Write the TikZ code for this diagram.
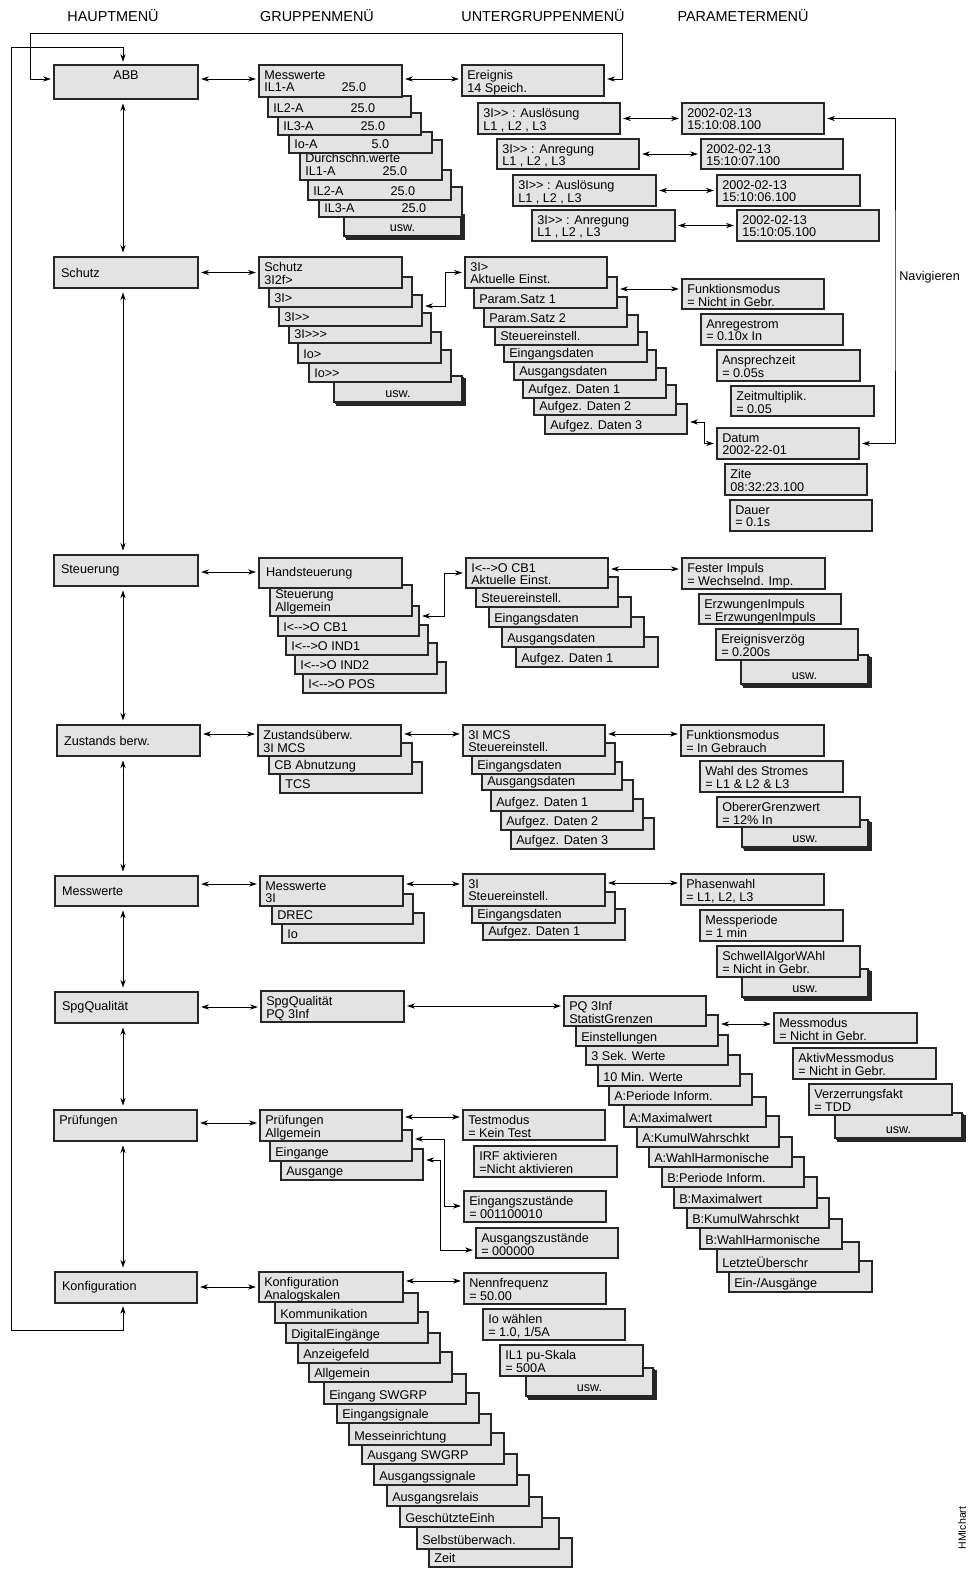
\documentclass[tikz,border=0pt]{standalone}
\usepackage{fontspec}
\setmainfont{Liberation Sans}
\usetikzlibrary{fit,shadows,arrows.meta}

\newcommand{\tabv}[2]{\makebox[44pt][l]{#1}#2}

\tikzset{
  box/.style={draw=black!85, fill=black!11, line width=0.9pt, inner sep=0pt, outer sep=0pt},
  txt/.style={font={\fontsize{7.2}{7.1}\selectfont\lineskiplimit=-5pt}, inner sep=0pt, align=left},
  tl/.style={label={[txt, anchor=north west, xshift=2.8pt, yshift=-2.9pt]north west:\strut #1}},
  bl/.style={label={[txt, anchor=south west, xshift=2.8pt, yshift=0.3pt]south west:#1\strut}},
  ml/.style={label={[txt, anchor=west, xshift=3.8pt]west:#1}},
  usw/.style={box, copy shadow={shadow xshift=1.6pt, shadow yshift=-1.6pt},
    copy shadow={shadow xshift=0.8pt, shadow yshift=-0.8pt},
    label={[txt, anchor=south, yshift=0.3pt]south:usw.\strut}},
  link/.style={line width=0.5pt, {Stealth[length=4.5pt,width=3pt]}-{Stealth[length=4.5pt,width=3pt]},
    shorten <=1.8pt, shorten >=1.8pt},
  head/.style={font=\fontsize{8.2}{9}\selectfont},
}

\begin{document}
\begin{tikzpicture}[x=0.02cm, y=-0.02cm]
    \useasboundingbox (0,0) rectangle (977,1569);

    % column headings
    \node[head] (hmain) at (113,16) {HAUPTMENÜ};
    \node[head] (hgrp)  at (317,16) {GRUPPENMENÜ};
    \node[head] (hsub)  at (543,16) {UNTERGRUPPENMENÜ};
    \node[head] (hpar)  at (743,16) {PARAMETERMENÜ};
    \coordinate (spine) at (123,0);

    % main menu
    \node[box, fit={(54,65)(198,99)}, label={[txt, anchor=north, yshift=-2.9pt]north:\strut ABB}] (abb) {};
    \node[box, fit={(54,257)(198,288)}, ml=Schutz] (schutz) {};
    \node[box, fit={(54,555)(198,586)}, ml=Steuerung] (steu) {};
    \node[box, fit={(57,725)(200,756)}, ml=Zustands berw.] (zust) {};
    \node[box, fit={(55,876)(198,906)}, ml=Messwerte] (mess) {};
    \node[box, fit={(55,992)(198,1023)}, ml=SpgQualität] (spg) {};
    \node[box, fit={(54,1110)(197,1141)}, tl=Prüfungen] (pruef) {};
    \node[box, fit={(55,1272)(197,1303)}, ml=Konfiguration] (konf) {};

    \draw[link, shorten <=2.5pt, shorten >=2.5pt] (abb.south -| spine) -- (schutz.north -| spine);
    \draw[link, shorten <=2.5pt, shorten >=2.5pt] (schutz.south -| spine) -- (steu.north -| spine);
    \draw[link, shorten <=2.5pt, shorten >=2.5pt] (steu.south -| spine) -- (zust.north -| spine);
    \draw[link, shorten <=2.5pt, shorten >=2.5pt] (zust.south -| spine) -- (mess.north -| spine);
    \draw[link, shorten <=2.5pt, shorten >=2.5pt] (mess.south -| spine) -- (spg.north -| spine);
    \draw[link, shorten <=2.5pt, shorten >=2.5pt] (spg.south -| spine) -- (pruef.north -| spine);
    \draw[link, shorten <=2.5pt, shorten >=2.5pt] (pruef.south -| spine) -- (konf.north -| spine);

    % ABB: messwerte
    \node[usw, fit={(344,212)(461,236)}] (g1h) {};
    \node[box, fit={(319,187)(462,217)}, bl={\tabv{IL3-A}{25.0}}] (g1g) {};
    \node[box, fit={(308,170)(451,200)}, bl={\tabv{IL2-A}{25.0}}] (g1f) {};
    \node[box, fit={(300,140)(442,180)}, bl={Durchschn.werte\\\tabv{IL1-A}{25.0}}] (g1e) {};
    \node[box, fit={(289,132)(432,153)}, bl={\tabv{Io-A}{5.0}}] (g1d) {};
    \node[box, fit={(278,113)(421,135)}, bl={\tabv{IL3-A}{25.0}}] (g1c) {};
    \node[box, fit={(268,96)(411,117)}, bl={\tabv{IL2-A}{25.0}}] (g1b) {};
    \node[box, fit={(259,65)(402,97)}, tl={Messwerte\\\tabv{IL1-A}{25.0}}] (g1a) {};

    % ABB: ereignisse
    \node[box, fit={(462,65)(604,96)}, tl={Ereignis\\14 Speich.}] (u1a) {};
    \node[box, fit={(478,103)(620,134)}, tl={3I>{}> : Auslösung\\L1 , L2 , L3}] (e1) {};
    \node[box, fit={(497,139)(639,169)}, tl={3I>{}> : Anregung\\L1 , L2 , L3}] (e2) {};
    \node[box, fit={(513,175)(656,206)}, tl={3I>{}> : Auslösung\\L1 , L2 , L3}] (e3) {};
    \node[box, fit={(532,210)(675,241)}, tl={3I>{}> : Anregung\\L1 , L2 , L3}] (e4) {};
    \node[box, fit={(682,103)(824,134)}, tl={2002-02-13\\15:10:08.100}] (d1) {};
    \node[box, fit={(701,139)(843,169)}, tl={2002-02-13\\15:10:07.100}] (d2) {};
    \node[box, fit={(717,175)(860,206)}, tl={2002-02-13\\15:10:06.100}] (d3) {};
    \node[box, fit={(737,210)(879,241)}, tl={2002-02-13\\15:10:05.100}] (d4) {};

    \draw[link] (abb.east |- 0,79) -- (g1a.west |- 0,79);
    \draw[link] (g1a.east |- 0,79) -- (u1a.west |- 0,79);
    \draw[link] (e1.east) -- (d1.west);
    \draw[link] (e2.east) -- (d2.west);
    \draw[link] (e3.east) -- (d3.west);
    \draw[link] (e4.east) -- (d4.west);
    \draw[link] (konf.south -| spine) |- (11,1330) -- (11,47) -| (abb.north -| spine);
    \draw[link] (abb.west |- 0,79) -| (30,33) -| (622,79) -- (u1a.east |- 0,79);

    % Schutz
    \node[usw, fit={(334,376)(462,402)}] (g2g) {};
    \node[box, fit={(309,350)(451,382)}, bl={Io>{}>}] (g2f) {};
    \node[box, fit={(298,332)(441,363)}, bl={Io>}] (g2e) {};
    \node[box, fit={(289,313)(431,343)}, bl={3I>{}>{}>}] (g2d) {};
    \node[box, fit={(279,295)(422,326)}, bl={3I>{}>}] (g2c) {};
    \node[box, fit={(269,277)(412,307)}, bl={3I>}] (g2b) {};
    \node[box, fit={(259,257)(402,288)}, tl={Schutz\\3I2f>}] (g2a) {};

    \node[box, fit={(545,404)(687,434)}, bl={Aufgez. Daten 3}] (u2i) {};
    \node[box, fit={(534,385)(676,415)}, bl={Aufgez. Daten 2}] (u2h) {};
    \node[box, fit={(523,368)(666,398)}, bl={Aufgez. Daten 1}] (u2g) {};
    \node[box, fit={(514,350)(656,380)}, bl={Ausgangsdaten}] (u2f) {};
    \node[box, fit={(504,332)(647,362)}, bl={Eingangsdaten}] (u2e) {};
    \node[box, fit={(495,315)(638,345)}, bl={Steuereinstell.}] (u2d) {};
    \node[box, fit={(484,297)(627,327)}, bl={Param.Satz 2}] (u2c) {};
    \node[box, fit={(474,277)(617,308)}, bl={Param.Satz 1}] (u2b) {};
    \node[box, fit={(465,257)(607,288)}, tl={3I>\\Aktuelle Einst.}] (u2a) {};

    \node[box, fit={(682,279)(824,309)}, tl={Funktionsmodus\\= Nicht in Gebr.}] (p2a) {};
    \node[box, fit={(701,314)(843,345)}, tl={Anregestrom\\= 0.10x In}] (p2b) {};
    \node[box, fit={(717,350)(860,381)}, tl={Ansprechzeit\\= 0.05s}] (p2c) {};
    \node[box, fit={(731,386)(874,416)}, tl={Zeitmultiplik.\\= 0.05}] (p2d) {};
    \node[box, fit={(717,428)(859,459)}, tl={Datum\\2002-22-01}] (dat1) {};
    \node[box, fit={(725,464)(867,495)}, tl={Zite\\08:32:23.100}] (dat2) {};
    \node[box, fit={(730,500)(872,531)}, tl={Dauer\\= 0.1s}] (dat3) {};

    \draw[link] (schutz.east) -- (g2a.west);
    \draw[link] (g2c.east |- 0,306) -- (445,306) |- (u2a.west);
    \draw[link] (u2b.east |- 0,289) -- (p2a.west |- 0,289);
    \draw[link] (u2i.east |- 0,422) -- (704,422) |- (dat1.west);
    \draw[link] (d1.east) -| (895,300) |- (dat1.east);
    \node[txt, anchor=west] (nav) at (899,277) {Navigieren};

    % Steuerung
    \node[box, fit={(303,662)(446,693)}, bl={I<-{}->O POS}] (g3f) {};
    \node[box, fit={(295,643)(437,674)}, bl={I<-{}->O IND2}] (g3e) {};
    \node[box, fit={(286,625)(428,655)}, bl={I<-{}->O IND1}] (g3d) {};
    \node[box, fit={(278,606)(419,636)}, bl={I<-{}->O CB1}] (g3c) {};
    \node[box, fit={(270,585)(412,616)}, bl={Steuerung\\Allgemein}] (g3b) {};
    \node[box, fit={(259,558)(402,588)}, ml=Handsteuerung] (g3a) {};

    \node[box, fit={(516,637)(658,667)}, bl={Aufgez. Daten 1}] (u3e) {};
    \node[box, fit={(502,617)(644,647)}, bl={Ausgangsdaten}] (u3d) {};
    \node[box, fit={(489,597)(631,627)}, bl={Eingangsdaten}] (u3c) {};
    \node[box, fit={(476,577)(618,607)}, bl={Steuereinstell.}] (u3b) {};
    \node[box, fit={(466,558)(608,588)}, tl={I<-{}->O CB1\\Aktuelle Einst.}] (u3a) {};

    \node[usw, fit={(741,655)(868,684)}] (p3d) {};
    \node[box, fit={(716,629)(858,660)}, tl={Ereignisverzög\\= 0.200s}] (p3c) {};
    \node[box, fit={(699,594)(841,624)}, tl={ErzwungenImpuls\\= ErzwungenImpuls}] (p3b) {};
    \node[box, fit={(682,558)(825,589)}, tl={Fester Impuls\\= Wechselnd. Imp.}] (p3a) {};

    \draw[link] (steu.east |- 0,572) -- (g3a.west |- 0,572);
    \draw[link] (g3c.east |- 0,616) -- (444,616) |- (u3a.west |- 0,573);
    \draw[link] (u3a.east |- 0,569) -- (p3a.west |- 0,569);

    % Zustandsueberwachung
    \node[box, fit={(280,762)(422,793)}, bl={TCS}] (g4c) {};
    \node[box, fit={(269,743)(412,774)}, bl={CB Abnutzung}] (g4b) {};
    \node[box, fit={(258,725)(401,756)}, tl={Zustandsüberw.\\3I MCS}] (g4a) {};

    \node[box, fit={(511,818)(654,849)}, bl={Aufgez. Daten 3}] (u4f) {};
    \node[box, fit={(501,799)(643,830)}, bl={Aufgez. Daten 2}] (u4e) {};
    \node[box, fit={(491,780)(633,811)}, bl={Aufgez. Daten 1}] (u4d) {};
    \node[box, fit={(482,762)(622,790)}, bl={Ausgangsdaten}] (u4c) {};
    \node[box, fit={(472,743)(615,774)}, bl={Eingangsdaten}] (u4b) {};
    \node[box, fit={(463,725)(605,756)}, tl={3I MCS\\Steuereinstell.}] (u4a) {};

    \node[usw, fit={(742,820)(868,847)}] (p4d) {};
    \node[box, fit={(717,797)(860,827)}, tl={ObererGrenzwert\\= 12\% In}] (p4c) {};
    \node[box, fit={(700,761)(843,792)}, tl={Wahl des Stromes\\= L1 \& L2 \& L3}] (p4b) {};
    \node[box, fit={(681,725)(824,756)}, tl={Funktionsmodus\\= In Gebrauch}] (p4a) {};

    \draw[link] (zust.east |- 0,734) -- (g4a.west |- 0,734);
    \draw[link] (g4a.east |- 0,734) -- (u4a.west |- 0,734);
    \draw[link] (u4a.east |- 0,734) -- (p4a.west |- 0,734);

    % Messwerte
    \node[box, fit={(282,913)(424,943)}, bl={Io}] (g5c) {};
    \node[box, fit={(272,894)(413,924)}, bl={DREC}] (g5b) {};
    \node[box, fit={(260,876)(403,906)}, tl={Messwerte\\3I}] (g5a) {};

    \node[box, fit={(483,909)(625,940)}, bl={Aufgez. Daten 1}] (u5c) {};
    \node[box, fit={(472,892)(615,923)}, bl={Eingangsdaten}] (u5b) {};
    \node[box, fit={(463,874)(605,906)}, tl={3I\\Steuereinstell.}] (u5a) {};

    \node[usw, fit={(742,969)(868,997)}] (p5d) {};
    \node[box, fit={(717,946)(860,977)}, tl={SchwellAlgorWAhl\\= Nicht in Gebr.}] (p5c) {};
    \node[box, fit={(700,910)(843,941)}, tl={Messperiode\\= 1 min}] (p5b) {};
    \node[box, fit={(681,874)(824,905)}, tl={Phasenwahl\\= L1, L2, L3}] (p5a) {};

    \draw[link] (mess.east |- 0,884) -- (g5a.west |- 0,884);
    \draw[link] (g5a.east |- 0,884) -- (u5a.west |- 0,884);
    \draw[link] (u5a.east |- 0,883) -- (p5a.west |- 0,883);

    % SpgQualitaet
    \node[box, fit={(261,991)(404,1022)}, tl={SpgQualität\\PQ 3Inf}] (g6a) {};

    \node[box, fit={(729,1261)(872,1292)}, bl={Ein-/Ausgänge}] (u6n) {};
    \node[box, fit={(717,1242)(859,1272)}, bl={LetzteÜberschr}] (u6m) {};
    \node[box, fit={(700,1219)(842,1249)}, bl={B:WahlHarmonische}] (u6l) {};
    \node[box, fit={(687,1198)(829,1228)}, bl={B:KumulWahrschkt}] (u6k) {};
    \node[box, fit={(674,1177)(817,1208)}, bl={B:Maximalwert}] (u6j) {};
    \node[box, fit={(662,1157)(804,1187)}, bl={B:Periode Inform.}] (u6i) {};
    \node[box, fit={(649,1137)(792,1167)}, bl={A:WahlHarmonische}] (u6h) {};
    \node[box, fit={(637,1116)(779,1147)}, bl={A:KumulWahrschkt}] (u6g) {};
    \node[box, fit={(624,1097)(766,1127)}, bl={A:Maximalwert}] (u6f) {};
    \node[box, fit={(609,1074)(752,1105)}, bl={A:Periode Inform.}] (u6e) {};
    \node[box, fit={(598,1055)(740,1086)}, bl={10 Min. Werte}] (u6d) {};
    \node[box, fit={(586,1035)(728,1065)}, bl={3 Sek. Werte}] (u6c) {};
    \node[box, fit={(576,1015)(718,1046)}, bl={Einstellungen}] (u6b) {};
    \node[box, fit={(564,996)(706,1026)}, tl={PQ 3Inf\\StatistGrenzen}] (u6a) {};

    \node[usw, fit={(835,1113)(962,1138)}] (p6d) {};
    \node[box, fit={(809,1084)(952,1115)}, tl={Verzerrungsfakt\\= TDD}] (p6c) {};
    \node[box, fit={(793,1048)(936,1079)}, tl={AktivMessmodus\\= Nicht in Gebr.}] (p6b) {};
    \node[box, fit={(774,1013)(917,1043)}, tl={Messmodus\\= Nicht in Gebr.}] (p6a) {};

    \draw[link] (spg.east |- 0,1007) -- (g6a.west |- 0,1007);
    \draw[link] (g6a.east |- 0,1006) -- (u6a.west |- 0,1006);
    \draw[link] (u6b.east |- 0,1024) -- (p6a.west |- 0,1024);

    % Pruefungen
    \node[box, fit={(281,1149)(423,1180)}, bl={Ausgange}] (g7c) {};
    \node[box, fit={(270,1130)(412,1161)}, bl={Eingange}] (g7b) {};
    \node[box, fit={(260,1110)(402,1141)}, tl={Prüfungen\\Allgemein}] (g7a) {};

    \node[box, fit={(463,1110)(605,1140)}, tl={Testmodus\\= Kein Test}] (p7a) {};
    \node[box, fit={(474,1146)(617,1177)}, tl={IRF aktivieren\\=Nicht aktivieren}] (p7b) {};
    \node[box, fit={(464,1191)(606,1222)}, tl={Eingangszustände\\= 001100010}] (p7c) {};
    \node[box, fit={(476,1228)(618,1258)}, tl={Ausgangszustände\\= 000000}] (p7d) {};

    \draw[link] (pruef.east |- 0,1123) -- (g7a.west |- 0,1123);
    \draw[link] (g7a.east |- 0,1117) -- (p7a.west |- 0,1117);
    \draw[link] (g7b.east |- 0,1139) -- (444,1139) |- (p7c.west |- 0,1206);
    \draw[link] (g7c.east |- 0,1160) -- (440,1160) |- (p7d.west |- 0,1250);

    % Konfiguration
    \node[box, fit={(429,1538)(572,1567)}, bl={Zeit}] (g8n) {};
    \node[box, fit={(417,1518)(559,1549)}, bl={Selbstüberwach.}] (g8m) {};
    \node[box, fit={(400,1497)(542,1527)}, bl={GeschützteEinh}] (g8l) {};
    \node[box, fit={(387,1475)(529,1506)}, bl={Ausgangsrelais}] (g8k) {};
    \node[box, fit={(374,1454)(517,1485)}, bl={Ausgangssignale}] (g8j) {};
    \node[box, fit={(362,1433)(504,1464)}, bl={Ausgang SWGRP}] (g8i) {};
    \node[box, fit={(349,1414)(491,1445)}, bl={Messeinrichtung}] (g8h) {};
    \node[box, fit={(337,1393)(479,1423)}, bl={Eingangsignale}] (g8g) {};
    \node[box, fit={(324,1374)(466,1404)}, bl={Eingang SWGRP}] (g8f) {};
    \node[box, fit={(309,1352)(452,1382)}, bl={Allgemein}] (g8e) {};
    \node[box, fit={(298,1333)(440,1363)}, bl={Anzeigefeld}] (g8d) {};
    \node[box, fit={(286,1312)(428,1343)}, bl={DigitalEingänge}] (g8c) {};
    \node[box, fit={(275,1293)(418,1323)}, bl={Kommunikation}] (g8b) {};
    \node[box, fit={(259,1272)(403,1302)}, tl={Konfiguration\\Analogskalen}] (g8a) {};

    \node[usw, fit={(526,1368)(653,1396)}] (p8d) {};
    \node[box, fit={(500,1345)(643,1376)}, tl={IL1 pu-Skala\\= 500A}] (p8c) {};
    \node[box, fit={(483,1309)(625,1340)}, tl={Io wählen\\= 1.0, 1/5A}] (p8b) {};
    \node[box, fit={(464,1273)(606,1304)}, tl={Nennfrequenz\\= 50.00}] (p8a) {};

    \draw[link] (konf.east |- 0,1287) -- (g8a.west |- 0,1287);
    \draw[link] (g8a.east |- 0,1281) -- (p8a.west |- 0,1281);

    \node[txt, rotate=90, font=\fontsize{6}{6}\selectfont] (tag) at (962,1528) {HMIchart};
\end{tikzpicture}
\end{document}
